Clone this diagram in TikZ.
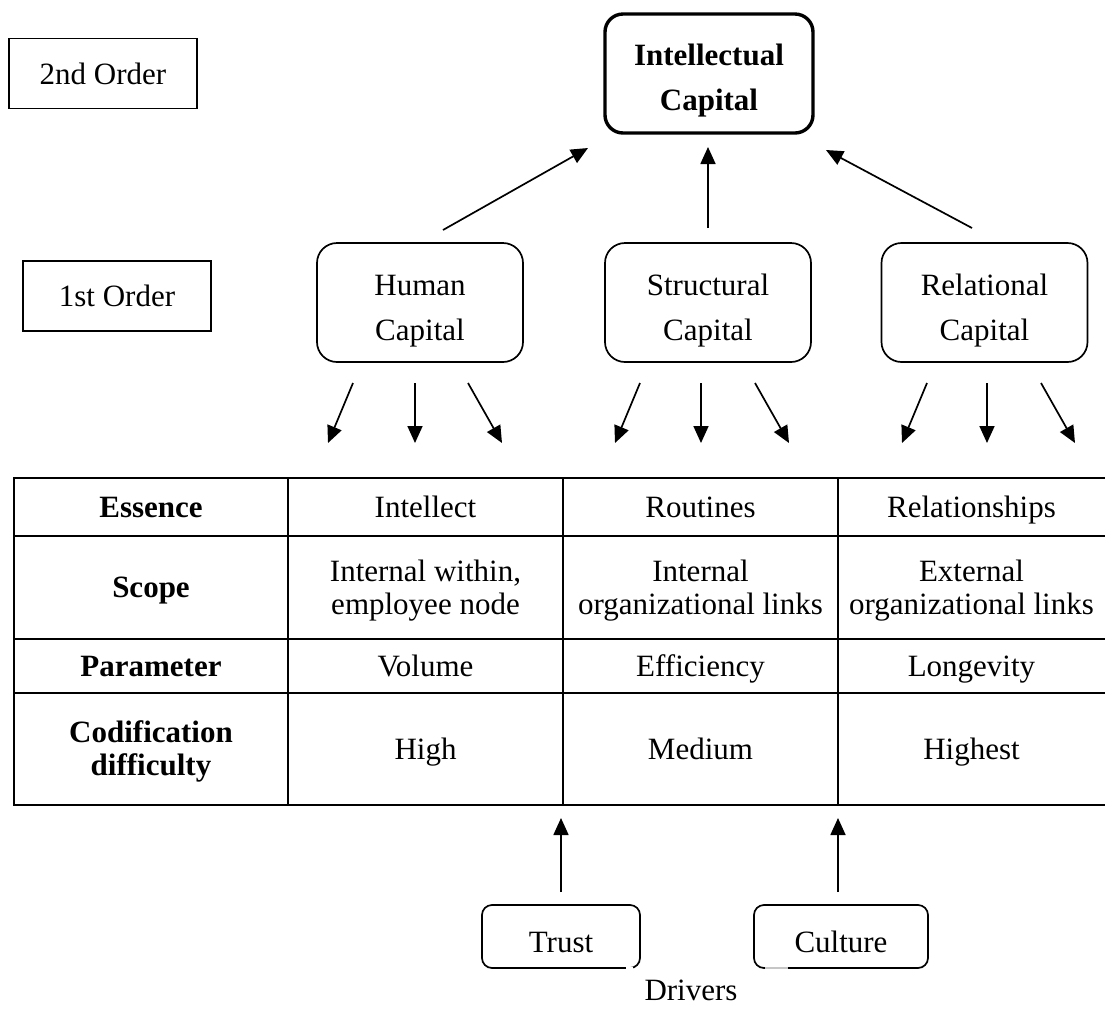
\documentclass[tikz,border=0pt]{standalone}
\usepackage{fontspec}
\setmainfont{Liberation Serif}
\usetikzlibrary{arrows.meta}
% invisible rules that fix the height of a first line and the depth of a last line
\newcommand{\hstr}[1]{\rule{0pt}{#1}}
\newcommand{\dstr}[1]{\rule[-#1]{0pt}{#1}}
\begin{document}
\begin{tikzpicture}[x=0.5pt,y=-0.5pt,
  every node/.style={font=\fontsize{15.5}{16.5}\selectfont, inner sep=0pt},
  levelbox/.style={draw, line width=0.85pt, minimum width=94pt, minimum height=35pt},
  capbox/.style={draw, line width=0.85pt, rounded corners=10pt, minimum width=103pt,
    minimum height=59.5pt, align=center, font=\fontsize{15.5}{22.5}\selectfont},
  topbox/.style={draw, line width=1.7pt, rounded corners=9pt, minimum width=104pt,
    minimum height=59.5pt, align=center, font=\fontsize{15.5}{22.5}\selectfont\bfseries},
  drvbox/.style={draw, line width=0.85pt, rounded corners=5pt, minimum height=31.5pt,
    text height=19pt, text depth=3.5pt},
  tline/.style={line width=1.2pt},
  head/.style={font=\fontsize{15.5}{16.5}\selectfont\bfseries, text height=13.8pt, text depth=3.35pt},
  mhead/.style={font=\fontsize{15.5}{16.5}\selectfont\bfseries, align=center},
  cell/.style={text height=13.8pt, text depth=3.35pt},
  mcell/.style={align=center},
  arr/.style={line width=0.85pt, -{Triangle[length=8.5pt,width=7.5pt]}},
]
\useasboundingbox (0,0) rectangle (1105,1014);

% order labels
\node[levelbox] (second) at (103,73.5) {2nd Order};
\node[levelbox] (first) at (117,296) {1st Order};

% second-order construct
\node[topbox] (ic) at (709,73.5) {\hstr{17.5pt}Intellectual\\Capital\dstr{3.5pt}};

% first-order constructs
\node[capbox] (hc) at (420,302.5) {\hstr{18.5pt}Human\\Capital\dstr{3.5pt}};
\node[capbox] (sc) at (708,302.5) {\hstr{18.5pt}Structural\\Capital\dstr{3.5pt}};
\node[capbox] (rc) at (984.5,302.5) {\hstr{18.5pt}Relational\\Capital\dstr{3.5pt}};

% arrows up to intellectual capital
\coordinate (hcUp) at (443,230);
\coordinate (scUp) at (708,228);
\coordinate (rcUp) at (972,228);
\coordinate (icL) at (588,148);
\coordinate (icM) at (708,147);
\coordinate (icR) at (826,150);
\draw[arr] (hcUp) -- (icL);
\draw[arr] (scUp) -- (icM);
\draw[arr] (rcUp) -- (icR);

% fan-out arrows below each capital
\coordinate (h1) at (353,383); \coordinate (h1t) at (328,443);
\coordinate (h2) at (415,383); \coordinate (h2t) at (415,443);
\coordinate (h3) at (468,383); \coordinate (h3t) at (502,443);
\coordinate (s1) at (640,383); \coordinate (s1t) at (615,443);
\coordinate (s2) at (701,383); \coordinate (s2t) at (701,443);
\coordinate (s3) at (755,383); \coordinate (s3t) at (789,443);
\coordinate (r1) at (927,383); \coordinate (r1t) at (902,443);
\coordinate (r2) at (987,383); \coordinate (r2t) at (987,443);
\coordinate (r3) at (1041,383); \coordinate (r3t) at (1075,443);
\foreach \p in {h1,h2,h3,s1,s2,s3,r1,r2,r3}
  \draw[arr] (\p) -- (\p t);

% table grid
\draw[tline] (1105,478) -- (14,478) -- (14,805) -- (1105,805);
\foreach \y in {536,639,693}
  \draw[tline] (14,\y) -- (1105,\y);
\foreach \x in {288,563,838}
  \draw[tline] (\x,478) -- (\x,805);

% table row headings
\node[head] (ess) at (151,507) {Essence};
\node[head] (scp) at (151,587.5) {Scope};
\node[head] (par) at (151,666) {Parameter};
\node[mhead] (cod) at (151,749) {\hstr{13.8pt}Codification\\difficulty\dstr{3.35pt}};

% table cells
\node[cell] (c11) at (425.5,507) {Intellect};
\node[cell] (c12) at (700.5,507) {Routines};
\node[cell] (c13) at (971.5,507) {Relationships};
\node[mcell] (c21) at (425.5,587.5) {\hstr{13.8pt}Internal within,\\employee node\dstr{3.35pt}};
\node[mcell] (c22) at (700.5,587.5) {\hstr{13.8pt}Internal\\organizational links\dstr{3.35pt}};
\node[mcell] (c23) at (971.5,587.5) {\hstr{13.8pt}External\\organizational links\dstr{3.35pt}};
\node[cell] (c31) at (425.5,666) {Volume};
\node[cell] (c32) at (700.5,666) {Efficiency};
\node[cell] (c33) at (971.5,666) {Longevity};
\node[cell] (c41) at (425.5,749) {High};
\node[cell] (c42) at (700.5,749) {Medium};
\node[cell] (c43) at (971.5,749) {Highest};

% drivers
\node[drvbox, minimum width=79pt] (trust) at (561,936.5) {Trust};
\node[drvbox, minimum width=87pt] (culture) at (841,936.5) {Culture};
\node[anchor=base] (drivers) at (691,1000) {Drivers};

% break in the lower edges of the driver boxes
\draw[white, line width=1.5pt] (626,968) -- (633,968);
\draw[gray!45, line width=1pt] (765,968) -- (788,968);

% arrows from drivers up to the table
\coordinate (trustTip) at (561,818);
\coordinate (cultureTip) at (838,818);
\coordinate (trustTail) at (561,892);
\coordinate (cultureTail) at (838,892);
\draw[arr] (trustTail) -- (trustTip);
\draw[arr] (cultureTail) -- (cultureTip);
\end{tikzpicture}
\end{document}
